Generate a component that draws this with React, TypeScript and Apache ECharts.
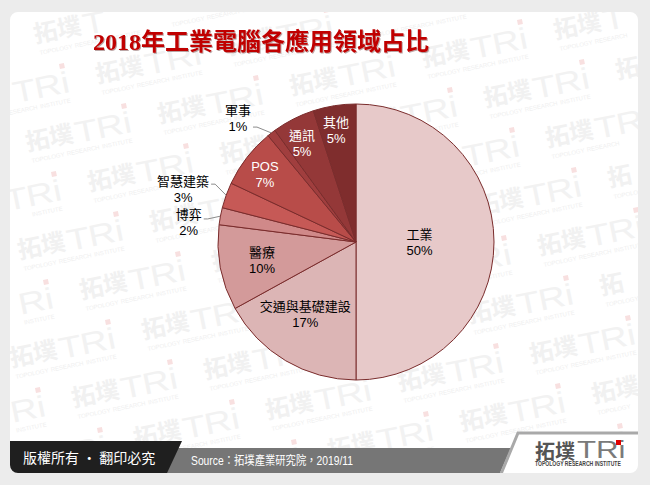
import React, { useEffect, useRef } from "react";
import * as echarts from "echarts";

const categories = ["工業", "交通與基礎建設", "醫療", "博弈", "智慧建築", "POS", "軍事", "通訊", "其他"];
const shares = [50, 17, 10, 2, 3, 7, 1, 5, 5];
const sliceColors = ["#e7c9c9", "#dcb5b5", "#d39a9a", "#d08989", "#c65956", "#b84c49", "#a03e3e", "#943838", "#7f2d2d"];
const labelColors = ["#000", "#000", "#000", "#000", "#000", "#fff", "#000", "#fff", "#fff"];
// label placement per slice: [radius factor, angle shift (deg), outside, line attach dy]
const labelPlace: [number, number, boolean, number][] = [
  [0.46, 0, false, 0],
  [0.64, 4.5, false, 0],
  [0.695, -0.6, false, 0],
  [1.22, -4.3, true, -4],
  [1.31, -2.8, true, -5],
  [0.82, -1.4, false, 0],
  [1.24, -5.8, true, 9],
  [0.817, -1.6, false, 0],
  [0.824, -1.1, false, 0],
];

const TITLE = "2018年工業電腦各應用領域占比";
const COPYRIGHT = "版權所有 · 翻印必究";
const SOURCE = "Source：拓墣產業研究院，2019/11";

const CX = 356;
const CY = 242;
const R = 138;

const SANS = '"Liberation Sans", "Noto Sans CJK TC", sans-serif';
const CJK = '"Noto Sans CJK TC", "Liberation Sans", sans-serif';

const ROT = 0.2;
// watermark pieces: [text, local x, local y, fontSize, width, height, bold, scaleX, fill]
const WM_PIECES: [string, number, number, number, number, number, boolean, number, string][] = [
  ["拓", 0, 0, 24, 24, 26, true, 1, "#f1f1f1"],
  ["墣", 24, 0, 24, 24, 26, true, 1, "#f1f1f1"],
  ["T", 50, -1, 30, 23, 30, false, 1.25, "#f2f2f2"],
  ["R", 72, -1, 30, 27, 30, false, 1.25, "#f2f2f2"],
  ["i", 99, -1, 30, 8, 30, false, 1.25, "#f2f2f2"],
  ["TOPOLOGY", 2, 30, 6, 32, 8, false, 1, "#efefef"],
  ["RESEARCH", 38, 30, 6, 32, 8, false, 1, "#efefef"],
  ["INSTITUTE", 74, 30, 6, 30, 8, false, 1, "#efefef"],
];

function toGlobal(x: number, y: number, lx: number, ly: number): [number, number] {
  const c = Math.cos(ROT);
  const s = Math.sin(ROT);
  return [x + lx * c + ly * s, y - lx * s + ly * c];
}

function inside(pts: [number, number][]) {
  return pts.every(([px, py]) => px >= 1 && px <= 649 && py >= 1 && py <= 484);
}

function watermarkPieces(x: number, y: number): any[] {
  const out: any[] = [];
  for (const [t, lx, ly, fs, w, h, bold, sx, fill] of WM_PIECES) {
    const corners = [
      toGlobal(x, y, lx, ly),
      toGlobal(x, y, lx + w, ly),
      toGlobal(x, y, lx, ly + h),
      toGlobal(x, y, lx + w, ly + h),
    ];
    if (!inside(corners)) continue;
    const [gx, gy] = corners[0];
    out.push({
      type: "text",
      x: gx,
      y: gy,
      rotation: ROT,
      scaleX: sx,
      z: 0,
      silent: true,
      style: {
        text: t,
        fontSize: fs,
        fontWeight: bold ? "bold" : "normal",
        fontFamily: bold ? CJK : SANS,
        fill,
        verticalAlign: "top",
      },
    });
  }
  const sq = [toGlobal(x, y, 101, -5), toGlobal(x, y, 106, 0)];
  if (inside(sq)) {
    out.push({
      type: "rect",
      x: sq[0][0],
      y: sq[0][1],
      rotation: ROT,
      z: 0,
      silent: true,
      shape: { width: 5, height: 5 },
      style: { fill: "#f8e0e0" },
    });
  }
  return out;
}

export default function App() {
  const ref = useRef<HTMLDivElement>(null);

  useEffect(() => {
    if (!ref.current) return;
    const chart = echarts.init(ref.current, undefined, { renderer: "svg" });

    const total = shares.reduce((a, b) => a + b, 0);
    let acc = 0;
    const mids = shares.map((v) => {
      const m = ((acc + v / 2) / total) * 360;
      acc += v;
      return m;
    });
    const polar = (deg: number, rr: number): [number, number] => {
      const t = (deg * Math.PI) / 180;
      return [CX + rr * Math.sin(t), CY - rr * Math.cos(t)];
    };

    const marks: any[] = [];
    for (let i = -6; i < 9; i++) {
      for (let j = -2; j < 16; j++) {
        const x = 15 + i * 132 + (j - 5) * 62;
        const y = 237 - i * 28 + (j - 5) * 40;
        if (x < -140 || x > 660 || y < -40 || y > 500) continue;
        marks.push(...watermarkPieces(x, y));
      }
    }

    const graphics: any[] = [
      ...marks,
      {
        type: "text",
        x: 261,
        y: 42,
        z: 10,
        style: {
          text: TITLE,
          fontSize: 24,
          fontWeight: "bold",
          fontFamily: '"Liberation Serif", "Noto Sans CJK TC", serif',
          fill: "#c00000",
          align: "center",
          verticalAlign: "middle",
          textShadowColor: "rgba(60,0,0,0.35)",
          textShadowOffsetX: 1,
          textShadowOffsetY: 1,
          textShadowBlur: 1,
        },
      },
      // bottom bar
      { type: "polygon", z: 10, shape: { points: [[176, 448], [511, 448], [500, 473], [163, 473]] }, style: { fill: "#767676" } },
      { type: "polygon", z: 11, shape: { points: [[10, 441], [182, 441], [167, 473], [10, 473]] }, style: { fill: "#1f1f1f" } },
      { type: "polygon", z: 11, shape: { points: [[502, 473], [518, 433], [640, 433], [640, 473]] }, style: { fill: "#ffffff" } },
      { type: "polyline", z: 12, shape: { points: [[501, 474], [518, 433], [640, 433]] }, style: { stroke: "#a9a9a9", lineWidth: 3, fill: null } },
      {
        type: "text", x: 23, y: 457, z: 12,
        style: { text: COPYRIGHT, fontSize: 14, fontFamily: CJK, fill: "#ffffff", verticalAlign: "middle" },
      },
      {
        type: "text", x: 191, y: 461, z: 12, scaleX: 0.86,
        style: { text: SOURCE, fontSize: 12, fontFamily: SANS, fill: "#ffffff", verticalAlign: "middle" },
      },
      {
        type: "text", x: 535, y: 450, z: 12,
        style: { text: "拓墣", fontSize: 20, fontWeight: "bold", fontFamily: CJK, fill: "#555555", verticalAlign: "middle" },
      },
      {
        type: "text", x: 577, y: 450, z: 12, scaleX: 1.3,
        style: { text: "TRi", fontSize: 24, fontFamily: SANS, fill: "#7a7a7a", verticalAlign: "middle" },
      },
      { type: "rect", x: 616, y: 440, z: 13, shape: { width: 5, height: 5 }, style: { fill: "#e00000" } },
      {
        type: "text", x: 535, y: 464, z: 12, scaleX: 0.78,
        style: { text: "TOPOLOGY RESEARCH INSTITUTE", fontSize: 6.5, fontWeight: "bold", fontFamily: SANS, fill: "#444444", verticalAlign: "middle" },
      },
      // outer frame (covers everything outside the rounded panel)
      {
        type: "rect", z: 100, silent: true,
        shape: { x: -10, y: -8, width: 668, height: 501, r: 28 },
        style: { fill: null, stroke: "#ececec", lineWidth: 40 },
      },
    ];

    chart.setOption({
      animation: false,
      backgroundColor: "#ffffff",
      graphic: { elements: graphics },
      series: [
        {
          type: "pie",
          center: [CX, CY],
          radius: R,
          startAngle: 90,
          clockwise: true,
          avoidLabelOverlap: false,
          z: 5,
          emphasis: { disabled: true },
          itemStyle: { borderColor: "#7a2c2c", borderWidth: 1 },
          label: {
            show: true,
            fontSize: 13,
            lineHeight: 16,
            fontFamily: SANS,
            align: "center",
            formatter: (p: any) => `${p.name}\n${p.value}%`,
          },
          labelLine: { lineStyle: { color: "#8c8c8c", width: 1 }, length: 5, length2: 5 },
          labelLayout: (p: any) => {
            const i = p.dataIndex;
            const [f, shift, outside, dyAttach] = labelPlace[i];
            const [lx, ly] = polar(mids[i] + shift, R * f);
            const res: any = { x: lx, y: ly, align: "center", verticalAlign: "middle" };
            if (outside) {
              const edge = polar(mids[i], R);
              const w = p.labelRect ? p.labelRect.width : 26;
              const end: [number, number] = [lx + w / 2 + 2, ly + dyAttach];
              res.labelLinePoints = [edge, [end[0] + 4, end[1]], end];
            }
            return res;
          },
          data: categories.map((name, i) => ({
            name,
            value: shares[i],
            itemStyle: { color: sliceColors[i] },
            label: { position: labelPlace[i][2] ? "outside" : "inside", color: labelColors[i] },
            labelLine: { show: labelPlace[i][2] },
          })),
        },
      ],
    });

    return () => chart.dispose();
  }, []);

  return (
    <div
      ref={ref}
      style={{ position: "absolute", left: 0, top: 0, width: 650, height: 485 }}
    />
  );
}
